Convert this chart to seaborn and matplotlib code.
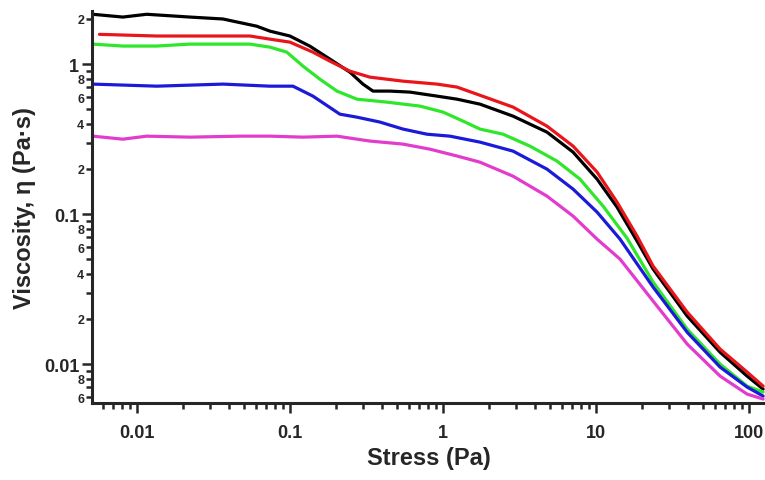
import matplotlib
matplotlib.use("Agg")
import matplotlib.pyplot as plt
import matplotlib.ticker as mticker
import numpy as np
import pandas as pd
import seaborn as sns

# values (stress in Pa, viscosity in Pa.s)
black_x = [0.00515, 0.0081, 0.0116, 0.0222, 0.0365, 0.0608, 0.074, 0.1, 0.135, 0.1826,
           0.2466, 0.300, 0.349, 0.451, 0.608, 0.914, 1.236, 1.745, 2.87, 4.78,
           7.08, 10.16, 13.71, 18.54, 23.6, 39.4, 64.6, 97, 123.5]
black_y = [2.15, 2.06, 2.15, 2.06, 2.0, 1.79, 1.66, 1.54, 1.318, 1.08,
           0.884, 0.736, 0.661, 0.661, 0.651, 0.612, 0.584, 0.541, 0.450, 0.352,
           0.259, 0.171, 0.1114, 0.0661, 0.043, 0.0209, 0.012, 0.00832, 0.00681]

red_x = [0.0057, 0.0135, 0.0222, 0.0548, 0.074, 0.1, 0.1414, 0.1826, 0.2466, 0.333,
         0.548, 0.914, 1.236, 1.745, 2.87, 4.78, 7.08, 10.16, 13.71, 18.54,
         23.6, 39.4, 64.6, 97, 123.5]
red_y = [1.58, 1.54, 1.54, 1.54, 1.468, 1.402, 1.202, 1.047, 0.898, 0.819,
         0.770, 0.736, 0.703, 0.62, 0.517, 0.386, 0.284, 0.1905, 0.1202, 0.0713,
         0.045, 0.0222, 0.0126, 0.00885, 0.00713]

green_x = [0.00515, 0.0081, 0.0135, 0.0222, 0.0548, 0.074, 0.0955, 0.1217, 0.157, 0.203,
           0.274, 0.4305, 0.708, 1.0, 1.352, 1.745, 2.47, 3.70, 5.56, 7.86,
           11.11, 15.96, 23.6, 39.4, 64.6, 97, 123.5]
green_y = [1.36, 1.32, 1.32, 1.36, 1.36, 1.298, 1.202, 0.970, 0.794, 0.661,
           0.584, 0.558, 0.525, 0.479, 0.417, 0.369, 0.341, 0.284, 0.2256, 0.171,
           0.1131, 0.069, 0.0352, 0.0171, 0.0100, 0.00713, 0.00651]

blue_x = [0.00515, 0.0135, 0.0365, 0.074, 0.1047, 0.1414, 0.212, 0.274, 0.387, 0.548,
          0.786, 1.111, 1.745, 2.87, 4.78, 7.08, 10.16, 14.35, 23.6, 39.4,
          64.6, 97, 123.5]
blue_y = [0.736, 0.713, 0.736, 0.713, 0.713, 0.612, 0.464, 0.443, 0.411, 0.369,
          0.341, 0.331, 0.302, 0.263, 0.1995, 0.1468, 0.1031, 0.0681, 0.0326, 0.0163,
          0.00955, 0.00703, 0.00612]

magenta_x = [0.00515, 0.0081, 0.0116, 0.0222, 0.0471, 0.074, 0.1217, 0.203, 0.333, 0.548,
             0.822, 1.236, 1.745, 2.87, 4.78, 7.08, 10.16, 14.35, 23.6, 39.4,
             64.6, 97, 123.5]
magenta_y = [0.331, 0.316, 0.331, 0.326, 0.331, 0.331, 0.326, 0.331, 0.307, 0.293,
             0.271, 0.244, 0.222, 0.179, 0.1318, 0.097, 0.0681, 0.0501, 0.0263, 0.0136,
             0.00832, 0.00631, 0.00585]

series = {
    "black": (black_x, black_y),
    "red": (red_x, red_y),
    "green": (green_x, green_y),
    "blue": (blue_x, blue_y),
    "magenta": (magenta_x, magenta_y),
}
colors = {"black": "#000000", "red": "#e8161b", "green": "#2ee62a",
          "blue": "#1a1ad8", "magenta": "#e23ccc"}

x_major = [0.01, 0.1, 1, 10, 100]
x_labels = ["0.01", "0.1", "1", "10", "100"]
y_major = [0.01, 0.1, 1]
y_labels = ["0.01", "0.1", "1"]

rows = []
for name, (xs, ys) in series.items():
    for x, y in zip(xs, ys):
        rows.append({"stress": x, "viscosity": y, "sample": name})
df = pd.DataFrame(rows)

sns.set_style("ticks")
plt.rcParams["font.family"] = ["Liberation Sans", "DejaVu Sans"]
plt.rcParams["font.weight"] = "bold"

fig = plt.figure(figsize=(7.65, 4.81), dpi=100)
ax = fig.add_axes([0.120, 0.160, 0.880, 0.815])

sns.lineplot(data=df, x="stress", y="viscosity", hue="sample", palette=colors,
             sort=False, estimator=None, linewidth=2.3, legend=False, ax=ax,
             solid_joinstyle="round", solid_capstyle="round")

ax.set_xscale("log")
ax.set_yscale("log")
ax.set_xlim(0.00508, 127)
ax.set_ylim(0.0055, 2.26)

ax.xaxis.set_major_locator(mticker.FixedLocator(x_major))
ax.xaxis.set_major_formatter(mticker.FixedFormatter(x_labels))
ax.xaxis.set_minor_locator(mticker.LogLocator(base=10, subs=range(2, 10)))
ax.xaxis.set_minor_formatter(mticker.NullFormatter())

ax.yaxis.set_major_locator(mticker.FixedLocator(y_major))
ax.yaxis.set_major_formatter(mticker.FixedFormatter(y_labels))
ax.yaxis.set_minor_locator(mticker.LogLocator(base=10, subs=range(2, 10)))


def minor_label(v, pos):
    m = int(round(v / 10 ** np.floor(np.log10(v))))
    return str(m) if m in (2, 4, 6, 8) else ""


ax.yaxis.set_minor_formatter(mticker.FuncFormatter(minor_label))

ax.tick_params(axis="both", which="major", length=7, width=1.8, direction="out")
ax.tick_params(axis="both", which="minor", length=4.5, width=1.8, direction="out")
ax.tick_params(axis="x", which="major", labelsize=13, pad=8)
ax.tick_params(axis="y", which="major", labelsize=13, pad=2)
ax.tick_params(axis="y", which="minor", labelsize=9, pad=1)
for lab in ax.get_xticklabels() + ax.get_yticklabels(which="both"):
    lab.set_fontweight("bold")

for side in ["top", "right"]:
    ax.spines[side].set_visible(False)
for side in ["left", "bottom"]:
    ax.spines[side].set_linewidth(2.2)

ax.set_xlabel("Stress (Pa)", fontsize=17, fontweight="bold", labelpad=4)
ax.set_ylabel("Viscosity, η (Pa·s)", fontsize=17, fontweight="bold", labelpad=6)

fig.savefig("out.png", dpi=100)
